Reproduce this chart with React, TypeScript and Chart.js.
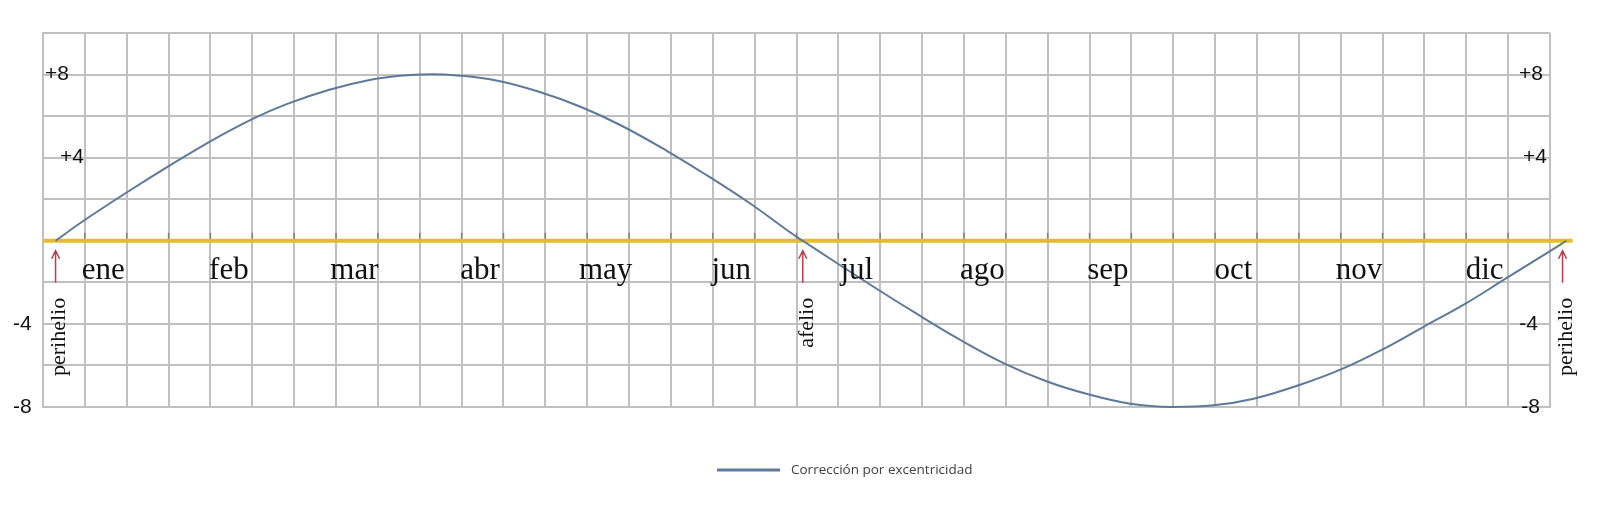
import { useEffect, useRef } from 'react'
import { Chart, registerables } from 'chart.js'

Chart.register(...registerables)

// x = months counted from the left edge of the grid (ene starts at 0)
const months = [
  0.1, 0.32, 0.66, 1.03, 1.35, 1.67, 1.94, 2.28, 2.6, 2.84, 3.08, 3.3, 3.62, 3.95, 4.28, 4.6, 4.97, 5.3,
  5.62, 5.96, 6.05, 6.29, 6.61, 6.94, 7.29, 7.64, 7.99, 8.33, 8.66, 8.99, 9.32, 9.64, 10.01, 10.34,
  10.66, 10.99, 11.32, 11.64, 12.0, 12.13,
]
const correction = [
  0, 0.95, 2.3, 3.7, 4.85, 5.87, 6.58, 7.27, 7.74, 7.94, 8.02, 7.96, 7.7, 7.17, 6.45, 5.56, 4.32, 3.1,
  1.84, 0.36, 0, -0.95, -2.2, -3.45, -4.72, -5.86, -6.76, -7.4, -7.84, -8.0, -7.92, -7.6, -6.93, -6.18,
  -5.25, -4.15, -3.05, -1.85, -0.5, 0,
]
const monthLabels = ['ene', 'feb', 'mar', 'abr', 'may', 'jun', 'jul', 'ago', 'sep', 'oct', 'nov', 'dic']
const tickValues = [8, 4, -4, -8]
const tickLabels = ['+8', '+4', '-4', '-8']
const eventLabels = ['perihelio', 'afelio', 'perihelio']
const eventMonths = [0.1, 6.05, 12.1]
const seriesLabel = 'Corrección por excentricidad'

const lineColor = '#5e7a9b'
const gridColor = '#c0c0c0'

// hand placed labels: left edge from the grid's left side, right edge from its right side
const leftLabelOffset = [2, 17, -30, -30]
const rightLabelOffset = [7, 3, 12, 10]

const drawArrow = (ctx: CanvasRenderingContext2D, px: number, top: number, bottom: number) => {
  ctx.beginPath()
  ctx.moveTo(px, bottom)
  ctx.lineTo(px, top)
  ctx.moveTo(px - 4, top + 8)
  ctx.lineTo(px, top)
  ctx.lineTo(px + 4, top + 8)
  ctx.stroke()
}

const overlay = {
  id: 'overlay',
  beforeDatasetsDraw(chart: Chart) {
    const { ctx, chartArea } = chart
    const x = chart.scales.x
    const y = chart.scales.y
    const y0 = y.getPixelForValue(0)
    ctx.save()
    // small ticks on the zero line
    ctx.strokeStyle = '#808080'
    ctx.lineWidth = 1.5
    for (let i = 1; i < 36; i++) {
      const px = x.getPixelForValue(i / 3)
      ctx.beginPath()
      ctx.moveTo(px, y0 - 8)
      ctx.lineTo(px, y0)
      ctx.stroke()
    }
    ctx.strokeStyle = '#e3bd2e'
    ctx.lineWidth = 4
    ctx.beginPath()
    ctx.moveTo(chartArea.left, y0)
    ctx.lineTo(x.getPixelForValue(12.18), y0)
    ctx.stroke()
    ctx.restore()
  },
  afterDatasetsDraw(chart: Chart) {
    const { ctx, chartArea } = chart
    const x = chart.scales.x
    const y = chart.scales.y
    const y0 = y.getPixelForValue(0)
    ctx.save()

    // value labels on both sides
    ctx.fillStyle = '#111'
    ctx.font = '21px "Liberation Sans", Arial, sans-serif'
    ctx.textBaseline = 'middle'
    tickValues.forEach((v, i) => {
      const py = y.getPixelForValue(v)
      ctx.textAlign = 'left'
      ctx.fillText(tickLabels[i], chartArea.left + leftLabelOffset[i], py)
      ctx.textAlign = 'right'
      ctx.fillText(tickLabels[i], chartArea.right - rightLabelOffset[i], py)
    })

    // month names under the zero line
    ctx.font = '31px "Liberation Serif", "Times New Roman", serif'
    ctx.textAlign = 'center'
    ctx.textBaseline = 'alphabetic'
    monthLabels.forEach((m, i) => {
      ctx.fillText(m, x.getPixelForValue(i + 0.48), y0 + 38)
    })

    // perihelio / afelio markers
    ctx.strokeStyle = '#b8404a'
    ctx.lineWidth = 1.5
    ctx.font = '22px "Liberation Serif", "Times New Roman", serif'
    eventMonths.forEach((m, i) => {
      const px = x.getPixelForValue(m)
      drawArrow(ctx, px, y0 + 10, y0 + 42)
      ctx.save()
      ctx.translate(px + 4, y0 + 57)
      ctx.rotate(-Math.PI / 2)
      ctx.textAlign = 'right'
      ctx.textBaseline = 'middle'
      ctx.fillStyle = '#111'
      ctx.fillText(eventLabels[i], 0, 0)
      ctx.restore()
    })

    // legend
    const lx = chartArea.left + 674
    const ly = chartArea.bottom + 63
    ctx.strokeStyle = lineColor
    ctx.lineWidth = 3
    ctx.beginPath()
    ctx.moveTo(lx, ly)
    ctx.lineTo(lx + 63, ly)
    ctx.stroke()
    ctx.fillStyle = '#404040'
    ctx.font = '13.5px "Open Sans", sans-serif'
    ctx.textAlign = 'left'
    ctx.textBaseline = 'middle'
    ctx.fillText(seriesLabel, lx + 74, ly)

    ctx.restore()
  },
}

export default function App() {
  const chartRef = useRef<HTMLCanvasElement>(null)
  const chartInstance = useRef<Chart | null>(null)

  useEffect(() => {
    if (!chartRef.current) return
    if (chartInstance.current) chartInstance.current.destroy()

    const ctx = chartRef.current.getContext('2d')
    if (!ctx) return

    chartInstance.current = new Chart(ctx, {
      type: 'line',
      data: {
        datasets: [
          {
            label: seriesLabel,
            data: months.map((m, i) => ({ x: m, y: correction[i] })),
            borderColor: lineColor,
            borderWidth: 2,
            pointRadius: 0,
            tension: 0.4,
            clip: false,
          },
        ],
      },
      options: {
        responsive: false,
        animation: false,
        events: [],
        layout: {
          padding: { left: 43, right: 50, top: 33, bottom: 108 },
        },
        plugins: {
          legend: { display: false },
          tooltip: { enabled: false },
        },
        scales: {
          x: {
            type: 'linear',
            // set here rather than min/max so the curve may run past the grid's right edge
            afterDataLimits: (scale) => {
              scale.min = 0
              scale.max = 12
            },
            afterBuildTicks: (scale) => {
              scale.ticks = Array.from({ length: 37 }, (_, i) => ({ value: i / 3 }))
            },
            grid: { color: gridColor, lineWidth: 2, drawTicks: false },
            border: { color: gridColor, width: 2 },
            ticks: { display: false },
          },
          y: {
            min: -8,
            max: 10,
            ticks: { display: false, stepSize: 2 },
            grid: { color: gridColor, lineWidth: 2, drawTicks: false },
            border: { color: gridColor, width: 2 },
          },
        },
      },
      plugins: [overlay],
    })

    return () => {
      if (chartInstance.current) {
        chartInstance.current.destroy()
        chartInstance.current = null
      }
    }
  }, [])

  return (
    <div style={{ position: 'absolute', left: 0, top: 0, width: 1600, height: 515, background: '#fff' }}>
      <canvas ref={chartRef} width={1600} height={515} />
    </div>
  )
}
